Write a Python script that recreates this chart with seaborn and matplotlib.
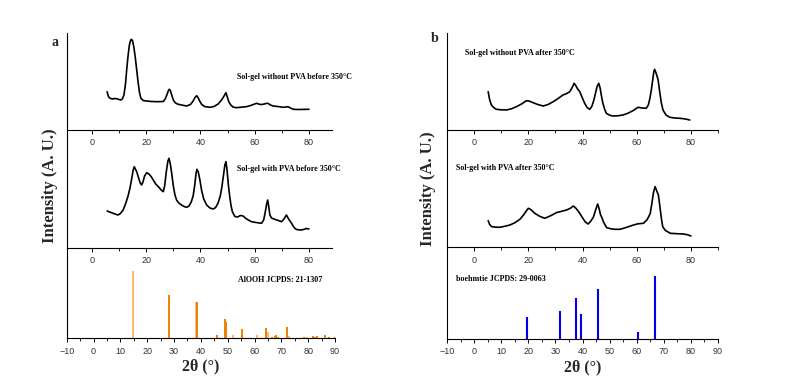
import matplotlib
matplotlib.use("Agg")
import matplotlib.pyplot as plt
import seaborn as sns
from matplotlib.ticker import MultipleLocator

# ---------------- data (arbitrary intensity units) ----------------
a1_x = [5.6, 6.0, 6.5, 7.5, 8.5, 9.5, 10.5, 11.2, 11.8, 12.4, 12.8, 13.3, 13.8, 14.3, 14.6, 15.0,
        15.5, 16.0, 16.5, 17.0, 17.5, 18.0, 18.9, 20, 22, 24, 26.3, 27, 27.6, 28.2, 28.5, 28.9,
        29.4, 30, 30.6, 31.5, 33, 34.9, 36.3, 37.3, 38.0, 38.6, 39.1, 39.8, 40.5, 41.5, 43.5, 45,
        46.5, 47.8, 48.7, 49.4, 49.9, 50.5, 51.2, 52, 53.2, 55, 56.9, 58.5, 60, 60.7, 62, 63.1,
        64.2, 64.9, 65.8, 66.8, 68.5, 70.5, 71.5, 72.3, 73.2, 74.2, 76, 80]
a1_y = [38.3, 34, 32, 31, 31.5, 31, 30, 31, 35, 47, 60, 74, 85, 90, 90.7, 89,
        82, 72, 60, 48, 38, 32, 29.5, 29, 28.5, 28.3, 28.5, 31, 35, 39.5, 40.7, 39.5,
        35, 30, 27.5, 26, 25, 24, 25.5, 29, 32.5, 34.3, 32.5, 28.5, 25.5, 23.5, 22.7, 23.5,
        26, 30, 34, 37.3, 33, 28, 25, 23, 22.3, 22.8, 23.3, 24.5, 26, 26.7, 25.5, 25.7,
        26.5, 26.7, 25, 24, 23.5, 22.7, 23, 23.3, 22, 20.7, 20.5, 20.7]

a2_x = [5.6, 6.5, 7.5, 8.5, 9.6, 10.5, 11.5, 12.5, 13.3, 14, 14.7, 15.2, 15.6, 16.0, 16.5, 17.2,
        17.8, 18.3, 18.8, 19.4, 20.2, 21, 21.8, 22.6, 23.5, 24.5, 25.5, 26.3, 26.8, 27.4, 28.0,
        28.4, 28.9, 29.4, 30.0, 30.6, 31.2, 32, 33, 34, 34.9, 35.8, 36.6, 37.3, 37.9, 38.4, 38.7,
        39.2, 39.8, 40.4, 41.2, 42.3, 43.5, 44.7, 45.6, 46.5, 47.3, 47.9, 48.5, 49.0, 49.4, 49.8,
        50.3, 50.8, 51.3, 51.8, 52.7, 53.7, 54.7, 55.7, 57, 58.8, 60.5, 62.5, 63.3, 63.9, 64.4,
        64.8, 65.2, 65.6, 66.2, 67.4, 68.7, 69.9, 70.8, 71.7, 72.5, 73.6, 74.5, 75.4, 77, 78, 79, 80]
a2_y = [37, 36, 35, 34, 33, 34.5, 38, 45, 52, 59.7, 70, 78, 81.3, 79, 76.3, 70,
        65, 63, 66, 72, 75.3, 74, 71.5, 68, 64, 61.3, 58, 56.3, 62, 76, 87,
        89.7, 84, 74.7, 62, 53, 48, 45, 43, 41.5, 40.7, 42, 46, 52, 63, 75, 78.7,
        76, 68, 58, 49, 43, 40, 39, 40.5, 45, 52, 61, 73, 83, 86.3, 78,
        63, 51.3, 42, 36, 31.5, 31, 32.5, 32, 29, 26.3, 25.5, 24.7, 28, 36, 44,
        48, 41, 33, 30, 28.7, 27.5, 26.3, 29, 33, 29, 24.7, 20.5, 18.5, 18, 18.5, 19.5, 19]

a3_pos = [14.6, 28.3, 38.3, 38.6, 46.1, 49.1, 49.5, 51.9, 55.5, 60.8, 64.3, 65.1, 66.5, 67.5,
          67.9, 68.9, 72.2, 72.7, 78.5, 79.4, 81.9, 82.7, 83.4, 86.3, 87.8, 90]
a3_int = [67.3, 43.3, 36.7, 36.7, 3.3, 19.3, 16.7, 3.3, 9.3, 3.3, 10.7, 6.7, 1.7, 2.5,
          3.3, 1.7, 11, 2.3, 1.3, 1.3, 2.3, 1.7, 2.3, 3.3, 1.3, 1.3]
a3_light = [True, False, True, False, False, False, False, True, False, True, False, True, False, False,
            False, False, False, True, False, True, False, False, False, False, False, False]

b1_x = [5.2, 5.6, 6.0, 6.4, 7.2, 8.2, 10, 11.9, 13.8, 15.6, 17.5, 19.3, 20.5, 21.8, 23.5, 25.5,
        27.3, 29.2, 31, 32.8, 34.2, 35.3, 36.2, 36.9, 37.5, 38.2, 39, 39.8, 40.8, 41.7, 42.7,
        43.5, 44.2, 44.8, 45.4, 46, 46.5, 47.0, 47.5, 48.2, 48.8, 50, 51.2, 53, 54.9, 56.8, 58.6,
        60.5, 62, 63.5, 64.3, 64.9, 65.4, 65.9, 66.3, 66.6, 67, 67.5, 67.9, 68.5, 69.1, 69.7,
        70.8, 72.2, 74, 75.9, 78, 79.6]
b1_y = [38.3, 32, 28, 25, 22.5, 20.7, 20.2, 20, 21.2, 23.3, 26, 29.3, 28.8, 27.3, 25.5, 24,
        25.5, 28.3, 31.5, 35, 36.5, 38.3, 42.5, 46.7, 44.5, 41, 38.3, 33, 26.7, 22.5, 20.7,
        24, 30, 37, 43.5, 46.7, 42, 34, 27, 20.5, 16.7, 14.8, 14, 14.2, 15, 16.8, 19.3,
        22.7, 22, 21.7, 25, 32, 40, 50, 58, 60.7, 58, 54, 50, 38, 27, 20,
        15, 12.7, 12, 11.7, 11, 10]

b2_x = [5.2, 5.7, 6.4, 7.8, 9.5, 11.3, 13.2, 15, 16.9, 18.3, 19.3, 20, 20.8, 21.6, 22.4, 24.2,
        26.1, 28.2, 30.4, 32.3, 34.1, 35.5, 36.6, 37.6, 38.3, 39, 40, 41, 42.1, 43, 44, 44.8,
        45.6, 46.2, 46.6, 47.1, 47.8, 48.9, 50.5, 52, 53.9, 56.3, 58.8, 60.5, 62.5, 63.8, 64.5,
        65, 65.6, 66.2, 66.8, 67.3, 68, 68.6, 69.1, 69.6, 70.5, 72.4, 74.8, 77.3, 78.8, 80]
b2_y = [26.7, 23, 20.7, 20.2, 20, 21, 22.3, 24.5, 28, 32.5, 36.5, 39, 38, 36, 34, 31,
        29, 31.5, 34.7, 36, 37.3, 39, 41.3, 39, 36.5, 34, 29.5, 25.5, 23.3, 26, 30, 37,
        43.3, 38, 33, 30, 25, 19.7, 18.5, 18, 18, 20, 22.3, 23.5, 24, 27.5, 31,
        34, 44, 55, 60.7, 57, 52.3, 40, 29, 20.7, 17, 14, 13.6, 13.3, 12.5, 11.3]

b3_pos = [19.5, 31.8, 37.6, 39.4, 45.9, 60.5, 66.7]
b3_int = [22.3, 28.3, 40.7, 25, 50, 6.7, 63]

labels = {
    "a1": "Sol-gel without PVA before 350°C",
    "a2": "Sol-gel with PVA before 350°C",
    "a3": "AlOOH JCPDS: 21-1307",
    "b1": "Sol-gel without PVA after 350°C",
    "b2": "Sol-gel with PVA after 350°C",
    "b3": "boehmtie JCPDS: 29-0063",
}

# ---------------- style ----------------
sns.set_theme(style="ticks")
plt.rcParams["font.family"] = ["Liberation Sans", "DejaVu Sans"]
SERIF = ["Liberation Serif", "DejaVu Serif"]

W, H = 787, 386
fig = plt.figure(figsize=(W / 100, H / 100), dpi=100)


def add_ax(x0, x1, y0, y1):
    return fig.add_axes([x0 / W, 1 - y1 / H, (x1 - x0) / W, (y1 - y0) / H])


def style(ax, xlim, ylim, major, minor):
    ax.set_xlim(*xlim)
    ax.set_ylim(*ylim)
    ax.set_facecolor("none")
    for s in ["top", "right"]:
        ax.spines[s].set_visible(False)
    for s in ["left", "bottom"]:
        ax.spines[s].set_color("black")
        ax.spines[s].set_linewidth(0.8)
    ax.set_yticks([])
    ax.xaxis.set_major_locator(MultipleLocator(major))
    ax.xaxis.set_minor_locator(MultipleLocator(minor))
    ax.tick_params(axis="x", which="major", length=3, width=0.7, color="black",
                   labelsize=6.5, labelcolor="#333333", pad=3, direction="out")
    ax.tick_params(axis="x", which="minor", length=2, width=0.6, color="black", direction="out")
    ax.set_xlabel("")
    ax.set_ylabel("")


def curve(ax, x, y):
    sns.lineplot(x=x, y=y, ax=ax, color="black", linewidth=1.2, estimator=None, sort=False)


def note(px, py, key):
    fig.text(px / W, 1 - py / H, labels[key], fontsize=5.8,
             fontweight="bold", family=SERIF, va="center", ha="left", color="black")


# ----- left column -----
axa1 = add_ax(67, 332, 33, 130)
curve(axa1, a1_x, a1_y)
style(axa1, (-9.2, 88.5), (0, 97), 20, 10)
axa1.set_xticks([0, 20, 40, 60, 80])

axa2 = add_ax(67, 332, 130, 248)
curve(axa2, a2_x, a2_y)
style(axa2, (-9.2, 88.5), (0, 118), 20, 10)
axa2.set_xticks([0, 20, 40, 60, 80])

axa3 = add_ax(66.7, 335, 248, 338.3)
light = "#ffb871"
dark = "#f07f00"
axa3.vlines(a3_pos, 0, a3_int, colors=[light if l else dark for l in a3_light], linewidth=1.4)
style(axa3, (-10, 90), (0, 90.3), 10, 5)
axa3.set_xlabel("2θ (°)", fontsize=11.5, fontweight="bold", family=SERIF, labelpad=2)

# ----- right column -----
axb1 = add_ax(447, 718, 33, 130)
curve(axb1, b1_x, b1_y)
style(axb1, (-10, 90), (0, 97), 20, 10)
axb1.set_xticks([0, 20, 40, 60, 80])

axb2 = add_ax(447, 718, 130, 247.3)
curve(axb2, b2_x, b2_y)
style(axb2, (-10, 90), (0, 117.3), 20, 10)
axb2.set_xticks([0, 20, 40, 60, 80])

axb3 = add_ax(447, 718, 247.3, 339)
axb3.vlines(b3_pos, 0, b3_int, colors="#0000ee", linewidth=1.5)
style(axb3, (-10, 90), (0, 91.7), 10, 5)
axb3.set_xlabel("2θ (°)", fontsize=11.5, fontweight="bold", family=SERIF, labelpad=2)

# ----- annotations -----
note(237, 77, "a1")
note(237, 169, "a2")
note(238, 280, "a3")
note(465, 53, "b1")
note(456, 168, "b2")
note(456, 279, "b3")

fig.text(55 / W, 1 - 42 / H, "a", fontsize=10, fontweight="bold", family=SERIF, ha="center", va="center")
fig.text(435 / W, 1 - 38 / H, "b", fontsize=10, fontweight="bold", family=SERIF, ha="center", va="center")

fig.text(50 / W, 1 - 186 / H, "Intensity (A. U.)", fontsize=12, fontweight="bold", family=SERIF,
         rotation=90, ha="center", va="center")
fig.text(428 / W, 1 - 189 / H, "Intensity (A. U.)", fontsize=12, fontweight="bold", family=SERIF,
         rotation=90, ha="center", va="center")

fig.savefig("out.png", dpi=100, facecolor="white")
